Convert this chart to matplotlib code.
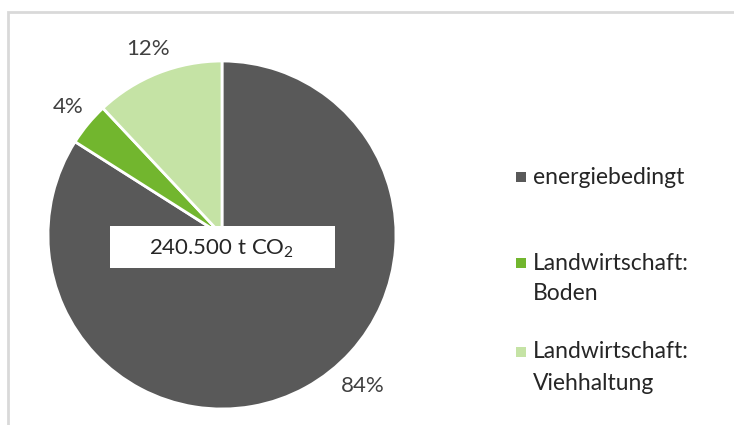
import matplotlib
matplotlib.use("Agg")
import matplotlib.pyplot as plt
import numpy as np
from matplotlib.patches import Rectangle

plt.rcParams['font.family'] = ['Lato', 'DejaVu Sans']
plt.rcParams['mathtext.fontset'] = 'custom'
plt.rcParams['mathtext.rm'] = 'Lato'
plt.rcParams['mathtext.it'] = 'Lato'

categories = ["energiebedingt", "Landwirtschaft:\nBoden", "Landwirtschaft:\nViehhaltung"]
values = [84, 4, 12]
pct_labels = ["84%", "4%", "12%"]
colors = ["#595959", "#72b62e", "#c5e3a5"]
center_text = "240.500 t CO$_\\mathrm{2}$"

W, H = 734, 425
fig = plt.figure(figsize=(W / 100, H / 100), dpi=100)
ax = fig.add_axes([0, 0, 1, 1])

# frame
ax.add_patch(Rectangle((8, -10), W + 20, H - 12 + 10, fill=False, edgecolor="#d9d9d9", lw=2))

cx, cy, r = 222, H - 235, 174
wedges, _ = ax.pie(values, colors=colors, startangle=90, counterclock=False,
                   center=(cx, cy), radius=r, frame=True,
                   wedgeprops=dict(edgecolor="white", linewidth=2))
ax.set_xlim(0, W)
ax.set_ylim(0, H)
ax.set_aspect('equal')
ax.axis('off')

# percentage labels
label_dist = [1.19, 1.15, 1.15]
angle_override = [-47, None, None]
for w, lab, d, ov in zip(wedges, pct_labels, label_dist, angle_override):
    ang = ov if ov is not None else (w.theta1 + w.theta2) / 2
    x = cx + d * r * np.cos(np.radians(ang))
    y = cy + d * r * np.sin(np.radians(ang))
    ax.text(x, y, lab, ha='center', va='center', fontsize=16, color="#404040")

# center box
ax.add_patch(Rectangle((110, H - 268), 225, 42, facecolor="white", edgecolor="none", zorder=5))
ax.text(222, H - 249, center_text, ha='center', va='center', fontsize=16, color="#262626", zorder=6)

# legend
leg_y = [177, 263, 352]
line_gap = 31
for cat, col, ly in zip(categories, colors, leg_y):
    ax.add_patch(Rectangle((516, H - ly - 5), 10, 10, facecolor=col, edgecolor="none"))
    for i, line in enumerate(cat.split("\n")):
        ax.text(533, H - ly - i * line_gap, line, ha='left', va='center', fontsize=16.5,
                color="#262626")

fig.savefig("out.png", dpi=100)
